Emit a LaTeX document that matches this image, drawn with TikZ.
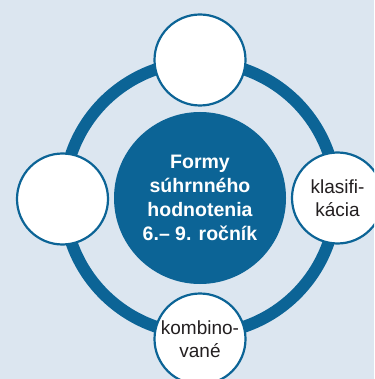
\documentclass[tikz,border=0pt]{standalone}
\usepackage{fontspec}
\setmainfont{Liberation Sans}
\definecolor{ringblue}{RGB}{12,100,150}
\definecolor{paleblue}{RGB}{220,230,240}
\definecolor{inkblack}{RGB}{35,31,32}
\pgfdeclarelayer{background layer}
\pgfsetlayers{background layer,main}
\tikzstyle{hub}=[circle,fill=ringblue,text=white,inner sep=0pt,minimum size=172pt,align=center,font=\bfseries\fontsize{19.5}{24}\selectfont]
\tikzstyle{leaf}=[circle,draw=ringblue,fill=white,line width=2.2pt,inner sep=0pt,minimum size=91pt,align=center,text=inkblack,font=\fontsize{19}{22.5}\selectfont]

\begin{document}
\begin{tikzpicture}[x=1pt,y=-1pt]
			\useasboundingbox (0,0) rectangle (374,379);
			\clip (0,0) rectangle (374,379);
			
			\node (hub) at (200,198) [hub] {Formy\\súhrnného\\hodnotenia\\6.– 9. ročník};
			\node (top) at (200,60) [leaf] {};
			\node (right) at (337.5,198) [leaf] {klasifi-\\kácia};
			\node (bottom) at (200,339) [leaf] {kombino-\\vané};
			\node (left) at (62.5,199) [leaf] {};
			
			\begin{pgfonlayer}{background layer}
				\fill [paleblue] (0,0) rectangle (374,379);
				\draw [ringblue,line width=12pt] (hub.center) circle (136pt);
			\end{pgfonlayer}
		\end{tikzpicture}
\end{document}
